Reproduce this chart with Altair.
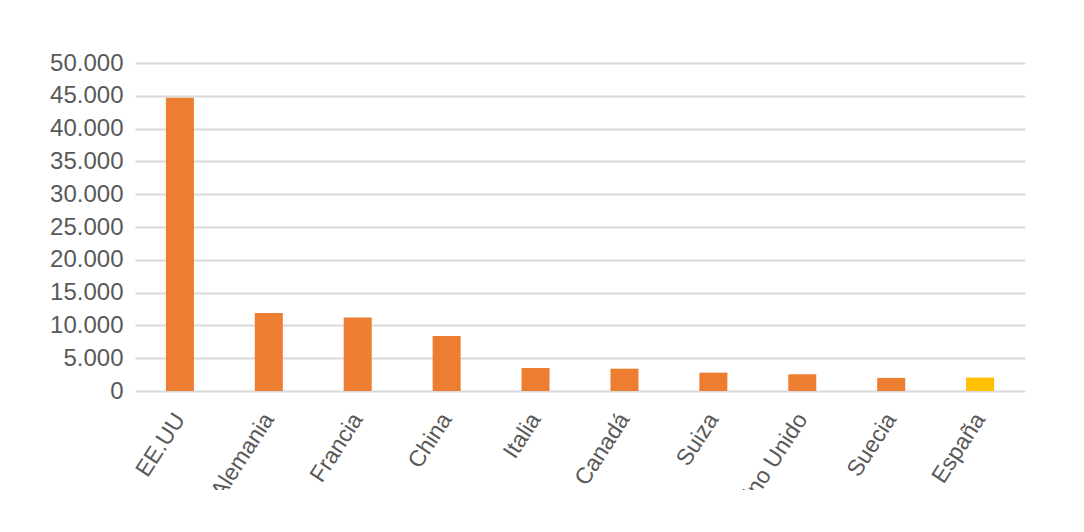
import altair as alt
import pandas as pd

paises = ["EE.UU", "Alemania", "Francia", "China", "Italia",
          "Canadá", "Suiza", "Reino Unido", "Suecia", "España"]
valores = [44700, 11900, 11200, 8400, 3500, 3400, 2800, 2550, 2000, 2050]
grupo = ["otros"] * 9 + ["España"]

df = pd.DataFrame({"pais": paises, "valor": valores, "grupo": grupo})

chart = alt.Chart(df).mark_bar(size=28).encode(
    x=alt.X("pais:N", sort=paises, title=None,
            scale=alt.Scale(paddingInner=0.69, paddingOuter=0.35),
            axis=alt.Axis(labelAngle=-57, labelAlign="right", labelBaseline="middle",
                          labelPadding=24, labelFontSize=23, labelColor="#595959",
                          labelFont="Liberation Sans", ticks=False, domain=False,
                          grid=False)),
    y=alt.Y("valor:Q", title=None,
            scale=alt.Scale(domain=[0, 50000]),
            axis=alt.Axis(values=list(range(0, 50001, 5000)),
                          labelExpr="replace(format(datum.value, ',d'), ',', '.')",
                          labelFontSize=24, labelColor="#595959", labelFont="Liberation Sans",
                          labelPadding=12, ticks=False, domain=False,
                          gridColor="#D9D9D9", gridWidth=2)),
    color=alt.Color("grupo:N", legend=None,
                    scale=alt.Scale(domain=["otros", "España"], range=["#ED7D31", "#FFC000"])),
).properties(
    width=890, height=328,
    autosize="none",
    padding={"left": 127, "top": 55, "right": 51, "bottom": 99},
).configure_view(stroke=None)

chart.save("out.html", embed_options={"renderer": "svg", "actions": False})
